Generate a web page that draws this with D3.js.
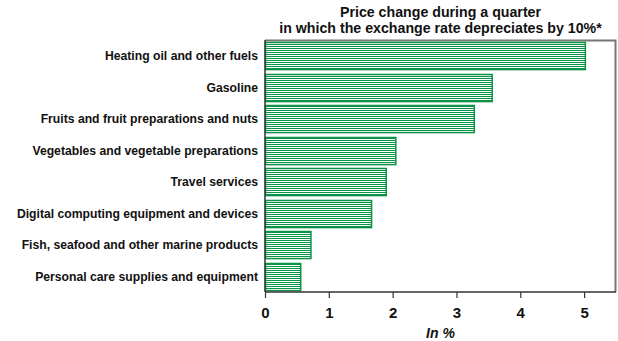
<!DOCTYPE html>
<html>
<head>
<meta charset="utf-8">
<script src="https://cdn.jsdelivr.net/npm/d3@7"></script>
<style>
  body { margin: 0; background: #fff; }
  text { font-family: "Liberation Sans", Arial, sans-serif; font-weight: bold; fill: #111; }
</style>
</head>
<body>
<div id="chart"></div>
<script>
// data
var categories = [
  "Heating oil and other fuels",
  "Gasoline",
  "Fruits and fruit preparations and nuts",
  "Vegetables and vegetable preparations",
  "Travel services",
  "Digital computing equipment and devices",
  "Fish, seafood and other marine products",
  "Personal care supplies and equipment"
];
var values = [5.02, 3.56, 3.28, 2.05, 1.90, 1.67, 0.72, 0.56];
var xTicks = [0, 1, 2, 3, 4, 5];
var titleLines = ["Price change during a quarter", "in which the exchange rate depreciates by 10%*"];
var xTitle = "In %";

var W = 618, H = 341;
var margin = { top: 40, right: 2, bottom: 49, left: 265 };
var width = W - margin.left - margin.right;
var height = H - margin.top - margin.bottom;
var green = "#0b9448";

var svg = d3.select("#chart").append("svg")
    .attr("width", W)
    .attr("height", H);

// striped fill
var defs = svg.append("defs");
var pat = defs.append("pattern")
    .attr("id", "stripes")
    .attr("patternUnits", "userSpaceOnUse")
    .attr("width", 8)
    .attr("height", 2);
pat.append("rect").attr("width", 8).attr("height", 2).attr("fill", "#fff");
pat.append("rect").attr("width", 8).attr("height", 1).attr("fill", green);

var g = svg.append("g")
    .attr("transform", "translate(" + margin.left + "," + margin.top + ")");

var x = d3.scaleLinear().domain([0, 5.5]).range([0, width]);
var y = d3.scaleBand().domain(categories).range([0, height]).paddingInner(0.14).paddingOuter(0.07);

// frame (top/right grey)
g.append("path")
    .attr("d", "M0,0.5H" + (width - 0.5) + "V" + height)
    .attr("fill", "none")
    .attr("stroke", "#777")
    .attr("stroke-width", 2);

// bars
g.selectAll(".bar")
  .data(values)
  .join("rect")
    .attr("class", "bar")
    .attr("x", 0.5)
    .attr("y", function(d, i) { return Math.round(y(categories[i])) + 0.5; })
    .attr("width", function(d) { return x(d) - 0.5; })
    .attr("height", y.bandwidth())
    .attr("fill", "url(#stripes)")
    .attr("stroke", green)
    .attr("stroke-width", 1.5);

// x axis
var xAxis = g.append("g")
    .attr("transform", "translate(0," + height + ")")
    .call(d3.axisBottom(x).tickValues(xTicks).tickSize(6).tickPadding(9).tickFormat(d3.format("d")));
xAxis.select(".domain").attr("stroke", "#333").attr("stroke-width", 1.5)
    .attr("d", "M0,0H" + width);
xAxis.selectAll(".tick line").attr("stroke", "#333").attr("stroke-width", 1.2);
xAxis.selectAll(".tick text")
    .style("font-size", "15px")
    .style("font-family", "Liberation Sans, Arial, sans-serif")
    .style("font-weight", "bold")
    .attr("fill", "#111");

// left axis line
g.append("line")
    .attr("x1", 0).attr("x2", 0)
    .attr("y1", 0).attr("y2", height)
    .attr("stroke", "#333").attr("stroke-width", 1.5);

// category labels
g.selectAll(".cat")
  .data(categories)
  .join("text")
    .attr("class", "cat")
    .attr("x", -7)
    .attr("y", function(d) { return y(d) + y.bandwidth() / 2; })
    .attr("dy", "0.35em")
    .attr("text-anchor", "end")
    .style("font-size", "12.2px")
    .text(function(d) { return d; });

// title
svg.selectAll(".title")
  .data(titleLines)
  .join("text")
    .attr("class", "title")
    .attr("x", margin.left + width / 2)
    .attr("y", function(d, i) { return 17 + i * 16; })
    .attr("text-anchor", "middle")
    .style("font-size", "14.2px")
    .text(function(d) { return d; });

// x axis title
svg.append("text")
    .attr("x", margin.left + width / 2)
    .attr("y", 338)
    .attr("text-anchor", "middle")
    .style("font-size", "14px")
    .style("font-style", "italic")
    .text(xTitle);
</script>
</body>
</html>
